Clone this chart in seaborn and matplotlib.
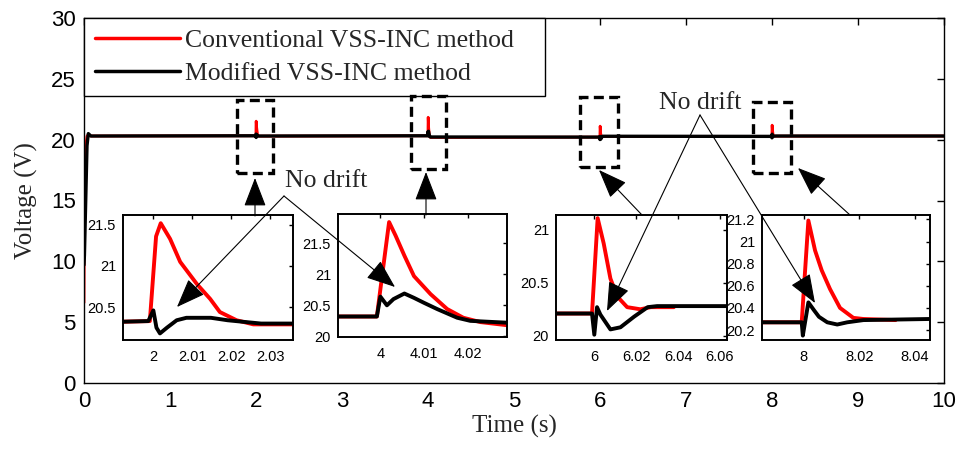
import numpy as np
import pandas as pd
import matplotlib
matplotlib.use("Agg")
import matplotlib.pyplot as plt
import seaborn as sns
from matplotlib.patches import FancyArrowPatch, Rectangle
from matplotlib.ticker import FormatStrFormatter

# ---------------- data ----------------
series_names = ["Conventional VSS-INC method", "Modified VSS-INC method"]

start_t = [0.0, 0.005, 0.02, 0.035, 0.05, 0.08]
red_start = [6.6, 15.0, 19.5, 20.3, 20.4, 20.3]
black_start = [9.7, 10.5, 15.0, 19.5, 20.5, 20.3]

red_t1 = [1.990, 1.9991, 2.0007, 2.0019, 2.0043, 2.0069, 2.0112, 2.0146, 2.0171, 2.0214, 2.0257, 2.0300, 2.0365]
red_v1 = [20.32, 20.33, 21.36, 21.52, 21.33, 21.05, 20.78, 20.60, 20.44, 20.34, 20.29, 20.29, 20.29]
black_t1 = [1.990, 1.9987, 2.0000, 2.0008, 2.0017, 2.0035, 2.0060, 2.0085, 2.0148, 2.0191, 2.0277, 2.0365]
black_v1 = [20.32, 20.33, 20.46, 20.25, 20.18, 20.25, 20.34, 20.37, 20.37, 20.34, 20.30, 20.30]

red_t2 = [3.990, 3.9992, 4.0010, 4.0020, 4.0035, 4.0055, 4.0077, 4.0115, 4.0153, 4.0190, 4.0229, 4.0290]
red_v2 = [20.32, 20.32, 21.30, 21.84, 21.62, 21.30, 20.97, 20.68, 20.44, 20.30, 20.23, 20.18]
black_t2 = [3.990, 3.9992, 4.0000, 4.0015, 4.0030, 4.0055, 4.0077, 4.0100, 4.0130, 4.0176, 4.0206, 4.0290]
black_v2 = [20.32, 20.32, 20.64, 20.50, 20.60, 20.69, 20.62, 20.54, 20.44, 20.30, 20.25, 20.22]

red_t3 = [5.9817, 5.9989, 6.0016, 6.0045, 6.0077, 6.0110, 6.0157, 6.0220, 6.0270, 6.0380]
red_v3 = [20.21, 20.21, 21.11, 20.87, 20.54, 20.37, 20.27, 20.25, 20.27, 20.27]
black_t3 = [5.9817, 5.9989, 6.0000, 6.0013, 6.0029, 6.0077, 6.0125, 6.0190, 6.0255, 6.0300, 6.0634]
black_v3 = [20.21, 20.21, 20.01, 20.27, 20.20, 20.06, 20.08, 20.18, 20.27, 20.28, 20.28]

red_t4 = [7.9849, 7.9992, 8.0016, 8.0040, 8.0064, 8.0094, 8.0130, 8.0178, 8.0214, 8.0330]
red_v4 = [20.27, 20.27, 21.19, 20.92, 20.74, 20.57, 20.40, 20.31, 20.30, 20.29]
black_t4 = [7.9849, 7.9992, 7.9996, 8.0016, 8.0036, 8.0054, 8.0084, 8.0120, 8.0156, 8.0214, 8.0454]
black_v4 = [20.27, 20.27, 20.15, 20.45, 20.38, 20.32, 20.27, 20.25, 20.27, 20.29, 20.30]

end_t = [10.0]
red_end = [20.3]
black_end = [20.3]

main_xticks = [0, 1, 2, 3, 4, 5, 6, 7, 8, 9, 10]
main_yticks = [0, 5, 10, 15, 20, 25, 30]

# ---------------- frames ----------------
red_df = pd.DataFrame({
    "Time": start_t + red_t1 + red_t2 + red_t3 + red_t4 + end_t,
    "Voltage": red_start + red_v1 + red_v2 + red_v3 + red_v4 + red_end})
black_df = pd.DataFrame({
    "Time": start_t + black_t1 + black_t2 + black_t3 + black_t4 + end_t,
    "Voltage": black_start + black_v1 + black_v2 + black_v3 + black_v4 + black_end})

sns.set_theme(style="white")
plt.rcParams['font.family'] = ['Liberation Sans', 'DejaVu Sans']
SERIF = ['Liberation Serif', 'DejaVu Serif']

W, H = 956, 449
fig = plt.figure(figsize=(W / 100, H / 100), dpi=100)


def rect(x0, y0, x1, y1):
    return [x0 / W, 1 - y1 / H, (x1 - x0) / W, (y1 - y0) / H]


def P(x, y):
    return (x / W, 1 - y / H)


ax = fig.add_axes(rect(84, 18, 944, 383))
sns.lineplot(data=red_df, x="Time", y="Voltage", color="red", lw=2.0, ax=ax,
             estimator=None, sort=False, label=series_names[0])
sns.lineplot(data=black_df, x="Time", y="Voltage", color="black", lw=2.4, ax=ax,
             estimator=None, sort=False, label=series_names[1])
ax.set_xlim(0, 10)
ax.set_ylim(0, 30)
ax.set_xticks(main_xticks)
ax.set_yticks(main_yticks)
ax.tick_params(direction="in", top=True, right=True, length=5, width=1,
               labelsize=16, pad=6, colors="black")
for s in ax.spines.values():
    s.set_color("black")
    s.set_linewidth(1.0)
ax.set_xlabel("Time (s)", family=SERIF, fontsize=18, labelpad=2)
ax.set_ylabel("Voltage (V)", family=SERIF, fontsize=18, labelpad=9)

leg = ax.legend(loc="upper left", bbox_to_anchor=(0, 0, (545 - 84) / 860, 1),
                mode="expand", borderaxespad=0, prop={"family": SERIF, "size": 18.5},
                handlelength=3.3, handletextpad=0.2, borderpad=0.42,
                labelspacing=0.4, fancybox=False, framealpha=1, edgecolor="black")
leg.get_frame().set_linewidth(1.0)
for ln in leg.get_lines():
    ln.set_linewidth(2.5)

# ---------------- insets ----------------
insets = [
    dict(px=(123, 215, 293, 340), xlim=(1.9922, 2.0359), ylim=(20.1, 21.62),
         xt=[2, 2.01, 2.02, 2.03], yt=[20.5, 21, 21.5], r=(red_t1, red_v1), b=(black_t1, black_v1)),
    dict(px=(338, 214, 507, 337), xlim=(3.9903, 4.029), ylim=(19.99, 21.97),
         xt=[4, 4.01, 4.02], yt=[20, 20.5, 21, 21.5], r=(red_t2, red_v2), b=(black_t2, black_v2)),
    dict(px=(556, 215, 727, 340), xlim=(5.9817, 6.0634), ylim=(19.96, 21.14),
         xt=[6, 6.02, 6.04, 6.06], yt=[20, 20.5, 21], r=(red_t3, red_v3), b=(black_t3, black_v3)),
    dict(px=(762, 215, 930, 340), xlim=(7.9849, 8.0454), ylim=(20.11, 21.24),
         xt=[8, 8.02, 8.04], yt=[20.2, 20.4, 20.6, 20.8, 21, 21.2], r=(red_t4, red_v4), b=(black_t4, black_v4)),
]
for ins in insets:
    ia = fig.add_axes(rect(*ins["px"]))
    ia.set_facecolor("white")
    sns.lineplot(x=ins["r"][0], y=ins["r"][1], color="red", lw=2.8, ax=ia,
                 estimator=None, sort=False)
    sns.lineplot(x=ins["b"][0], y=ins["b"][1], color="black", lw=2.8, ax=ia,
                 estimator=None, sort=False)
    ia.set_xlim(*ins["xlim"])
    ia.set_ylim(*ins["ylim"])
    ia.set_xticks(ins["xt"])
    ia.set_yticks(ins["yt"])
    ia.xaxis.set_major_formatter(FormatStrFormatter("%g"))
    ia.yaxis.set_major_formatter(FormatStrFormatter("%g"))
    ia.tick_params(direction="in", top=True, right=True, length=3, width=1,
                   labelsize=10.5, pad=5, colors="black")
    ia.tick_params(axis="x", pad=7)
    ia.set_xlabel("")
    ia.set_ylabel("")
    for s in ia.spines.values():
        s.set_color("black")
        s.set_linewidth(1.4)

# ---------------- annotations ----------------
dash_boxes = [(237, 100, 273, 173), (411, 96, 446, 169), (580, 97, 618, 167), (753, 102, 791, 173)]
for (x0, y0, x1, y1) in dash_boxes:
    fig.add_artist(Rectangle(P(x0, y1), (x1 - x0) / W, (y1 - y0) / H, transform=fig.transFigure,
                             fill=False, ec="black", lw=2.4, ls=(0, (3, 1.6)), zorder=6))


def arrow(tail, tip, lw=0.8):
    fig.add_artist(FancyArrowPatch(P(*tail), P(*tip), transform=fig.transFigure,
                                   arrowstyle="-|>,head_length=1.3,head_width=0.5",
                                   mutation_scale=14, lw=lw, color="black",
                                   shrinkA=0, shrinkB=0, zorder=7))


arrow((255, 216), (255, 178))
arrow((426, 215), (426, 172))
arrow((642, 215), (599, 170))
arrow((850, 215), (798, 168))
arrow((284, 196), (177, 307))
arrow((284, 196), (395, 287))
arrow((700, 115), (607, 311))
arrow((700, 115), (815, 303))

fig.text(*P(326, 181), "No drift", family=SERIF, fontsize=18.5, ha="center", va="center", zorder=8)
fig.text(*P(700, 103), "No drift", family=SERIF, fontsize=18.5, ha="center", va="center", zorder=8)

fig.savefig("out.png", dpi=100)
